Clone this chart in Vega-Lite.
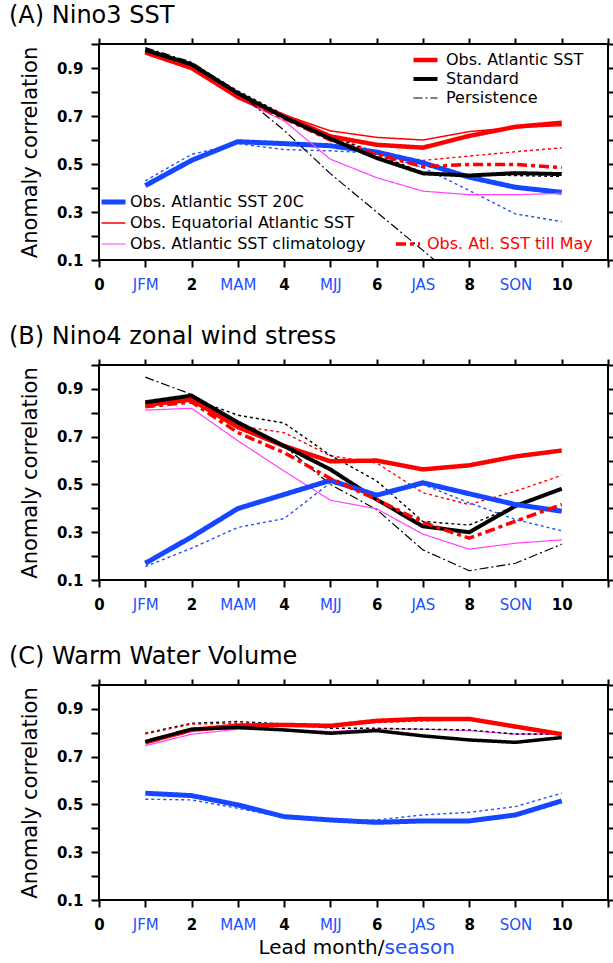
{
  "$schema": "https://vega.github.io/schema/vega-lite/v6.json",
  "background": "white",
  "padding": {"left": 8, "top": 3, "right": 0, "bottom": 0},
  "datasets": {
    "A": [
      {"s":"Obs. Atlantic SST","t":1,"r":0.965},{"s":"Obs. Atlantic SST","t":2,"r":0.90},{"s":"Obs. Atlantic SST","t":3,"r":0.78},{"s":"Obs. Atlantic SST","t":4,"r":0.70},{"s":"Obs. Atlantic SST","t":5,"r":0.615},{"s":"Obs. Atlantic SST","t":6,"r":0.58},{"s":"Obs. Atlantic SST","t":7,"r":0.568},{"s":"Obs. Atlantic SST","t":8,"r":0.617},{"s":"Obs. Atlantic SST","t":9,"r":0.655},{"s":"Obs. Atlantic SST","t":10,"r":0.672},
      {"s":"Standard","t":1,"r":0.975},{"s":"Standard","t":2,"r":0.915},{"s":"Standard","t":3,"r":0.795},{"s":"Standard","t":4,"r":0.695},{"s":"Standard","t":5,"r":0.605},{"s":"Standard","t":6,"r":0.525},{"s":"Standard","t":7,"r":0.461},{"s":"Standard","t":8,"r":0.452},{"s":"Standard","t":9,"r":0.462},{"s":"Standard","t":10,"r":0.458},
      {"s":"Persistence","t":1,"r":0.985},{"s":"Persistence","t":2,"r":0.925},{"s":"Persistence","t":3,"r":0.80},{"s":"Persistence","t":4,"r":0.64},{"s":"Persistence","t":5,"r":0.46},{"s":"Persistence","t":6,"r":0.30},{"s":"Persistence","t":7,"r":0.14},{"s":"Persistence","t":8,"r":-0.02},
      {"s":"Obs. Atlantic SST 20C","t":1,"r":0.41},{"s":"Obs. Atlantic SST 20C","t":2,"r":0.515},{"s":"Obs. Atlantic SST 20C","t":3,"r":0.593},{"s":"Obs. Atlantic SST 20C","t":4,"r":0.585},{"s":"Obs. Atlantic SST 20C","t":5,"r":0.576},{"s":"Obs. Atlantic SST 20C","t":6,"r":0.55},{"s":"Obs. Atlantic SST 20C","t":7,"r":0.505},{"s":"Obs. Atlantic SST 20C","t":8,"r":0.445},{"s":"Obs. Atlantic SST 20C","t":9,"r":0.403},{"s":"Obs. Atlantic SST 20C","t":10,"r":0.382},
      {"s":"Obs. Equatorial Atlantic SST","t":1,"r":0.965},{"s":"Obs. Equatorial Atlantic SST","t":2,"r":0.90},{"s":"Obs. Equatorial Atlantic SST","t":3,"r":0.78},{"s":"Obs. Equatorial Atlantic SST","t":4,"r":0.705},{"s":"Obs. Equatorial Atlantic SST","t":5,"r":0.638},{"s":"Obs. Equatorial Atlantic SST","t":6,"r":0.611},{"s":"Obs. Equatorial Atlantic SST","t":7,"r":0.60},{"s":"Obs. Equatorial Atlantic SST","t":8,"r":0.635},{"s":"Obs. Equatorial Atlantic SST","t":9,"r":0.652},{"s":"Obs. Equatorial Atlantic SST","t":10,"r":0.66},
      {"s":"Obs. Atlantic SST climatology","t":1,"r":0.96},{"s":"Obs. Atlantic SST climatology","t":2,"r":0.895},{"s":"Obs. Atlantic SST climatology","t":3,"r":0.772},{"s":"Obs. Atlantic SST climatology","t":4,"r":0.68},{"s":"Obs. Atlantic SST climatology","t":5,"r":0.52},{"s":"Obs. Atlantic SST climatology","t":6,"r":0.443},{"s":"Obs. Atlantic SST climatology","t":7,"r":0.387},{"s":"Obs. Atlantic SST climatology","t":8,"r":0.372},{"s":"Obs. Atlantic SST climatology","t":9,"r":0.372},{"s":"Obs. Atlantic SST climatology","t":10,"r":0.378},
      {"s":"Obs. Atl. SST till May","t":1,"r":0.965},{"s":"Obs. Atl. SST till May","t":2,"r":0.90},{"s":"Obs. Atl. SST till May","t":3,"r":0.78},{"s":"Obs. Atl. SST till May","t":4,"r":0.69},{"s":"Obs. Atl. SST till May","t":5,"r":0.60},{"s":"Obs. Atl. SST till May","t":6,"r":0.54},{"s":"Obs. Atl. SST till May","t":7,"r":0.489},{"s":"Obs. Atl. SST till May","t":8,"r":0.498},{"s":"Obs. Atl. SST till May","t":9,"r":0.498},{"s":"Obs. Atl. SST till May","t":10,"r":0.485},
      {"s":"Atlantic SST (dashed)","t":1,"r":0.97},{"s":"Atlantic SST (dashed)","t":2,"r":0.91},{"s":"Atlantic SST (dashed)","t":3,"r":0.79},{"s":"Atlantic SST (dashed)","t":4,"r":0.70},{"s":"Atlantic SST (dashed)","t":5,"r":0.615},{"s":"Atlantic SST (dashed)","t":6,"r":0.55},{"s":"Atlantic SST (dashed)","t":7,"r":0.515},{"s":"Atlantic SST (dashed)","t":8,"r":0.533},{"s":"Atlantic SST (dashed)","t":9,"r":0.551},{"s":"Atlantic SST (dashed)","t":10,"r":0.567},
      {"s":"Standard (dashed)","t":1,"r":0.98},{"s":"Standard (dashed)","t":2,"r":0.92},{"s":"Standard (dashed)","t":3,"r":0.805},{"s":"Standard (dashed)","t":4,"r":0.705},{"s":"Standard (dashed)","t":5,"r":0.62},{"s":"Standard (dashed)","t":6,"r":0.54},{"s":"Standard (dashed)","t":7,"r":0.465},{"s":"Standard (dashed)","t":8,"r":0.455},{"s":"Standard (dashed)","t":9,"r":0.452},{"s":"Standard (dashed)","t":10,"r":0.448},
      {"s":"20C (dashed)","t":1,"r":0.43},{"s":"20C (dashed)","t":2,"r":0.54},{"s":"20C (dashed)","t":3,"r":0.585},{"s":"20C (dashed)","t":4,"r":0.56},{"s":"20C (dashed)","t":5,"r":0.555},{"s":"20C (dashed)","t":6,"r":0.545},{"s":"20C (dashed)","t":7,"r":0.485},{"s":"20C (dashed)","t":8,"r":0.39},{"s":"20C (dashed)","t":9,"r":0.292},{"s":"20C (dashed)","t":10,"r":0.26}
    ],
    "B": [
      {"s":"Obs. Atlantic SST","t":1,"r":0.833},{"s":"Obs. Atlantic SST","t":2,"r":0.855},{"s":"Obs. Atlantic SST","t":3,"r":0.74},{"s":"Obs. Atlantic SST","t":4,"r":0.661},{"s":"Obs. Atlantic SST","t":5,"r":0.597},{"s":"Obs. Atlantic SST","t":6,"r":0.60},{"s":"Obs. Atlantic SST","t":7,"r":0.563},{"s":"Obs. Atlantic SST","t":8,"r":0.58},{"s":"Obs. Atlantic SST","t":9,"r":0.617},{"s":"Obs. Atlantic SST","t":10,"r":0.642},
      {"s":"Standard","t":1,"r":0.844},{"s":"Standard","t":2,"r":0.872},{"s":"Standard","t":3,"r":0.76},{"s":"Standard","t":4,"r":0.661},{"s":"Standard","t":5,"r":0.563},{"s":"Standard","t":6,"r":0.437},{"s":"Standard","t":7,"r":0.325},{"s":"Standard","t":8,"r":0.30},{"s":"Standard","t":9,"r":0.41},{"s":"Standard","t":10,"r":0.482},
      {"s":"Persistence","t":1,"r":0.949},{"s":"Persistence","t":2,"r":0.877},{"s":"Persistence","t":3,"r":0.752},{"s":"Persistence","t":4,"r":0.661},{"s":"Persistence","t":5,"r":0.50},{"s":"Persistence","t":6,"r":0.395},{"s":"Persistence","t":7,"r":0.226},{"s":"Persistence","t":8,"r":0.139},{"s":"Persistence","t":9,"r":0.17},{"s":"Persistence","t":10,"r":0.25},
      {"s":"Obs. Atlantic SST 20C","t":1,"r":0.17},{"s":"Obs. Atlantic SST 20C","t":2,"r":0.28},{"s":"Obs. Atlantic SST 20C","t":3,"r":0.399},{"s":"Obs. Atlantic SST 20C","t":4,"r":0.458},{"s":"Obs. Atlantic SST 20C","t":5,"r":0.517},{"s":"Obs. Atlantic SST 20C","t":6,"r":0.455},{"s":"Obs. Atlantic SST 20C","t":7,"r":0.507},{"s":"Obs. Atlantic SST 20C","t":8,"r":0.461},{"s":"Obs. Atlantic SST 20C","t":9,"r":0.416},{"s":"Obs. Atlantic SST 20C","t":10,"r":0.388},
      {"s":"Obs. Atlantic SST climatology","t":1,"r":0.811},{"s":"Obs. Atlantic SST climatology","t":2,"r":0.819},{"s":"Obs. Atlantic SST climatology","t":3,"r":0.683},{"s":"Obs. Atlantic SST climatology","t":4,"r":0.556},{"s":"Obs. Atlantic SST climatology","t":5,"r":0.434},{"s":"Obs. Atlantic SST climatology","t":6,"r":0.398},{"s":"Obs. Atlantic SST climatology","t":7,"r":0.292},{"s":"Obs. Atlantic SST climatology","t":8,"r":0.229},{"s":"Obs. Atlantic SST climatology","t":9,"r":0.254},{"s":"Obs. Atlantic SST climatology","t":10,"r":0.268},
      {"s":"Obs. Atl. SST till May","t":1,"r":0.825},{"s":"Obs. Atl. SST till May","t":2,"r":0.845},{"s":"Obs. Atl. SST till May","t":3,"r":0.717},{"s":"Obs. Atl. SST till May","t":4,"r":0.633},{"s":"Obs. Atl. SST till May","t":5,"r":0.525},{"s":"Obs. Atl. SST till May","t":6,"r":0.437},{"s":"Obs. Atl. SST till May","t":7,"r":0.341},{"s":"Obs. Atl. SST till May","t":8,"r":0.275},{"s":"Obs. Atl. SST till May","t":9,"r":0.346},{"s":"Obs. Atl. SST till May","t":10,"r":0.416},
      {"s":"Atlantic SST (dashed)","t":1,"r":0.83},{"s":"Atlantic SST (dashed)","t":2,"r":0.85},{"s":"Atlantic SST (dashed)","t":3,"r":0.745},{"s":"Atlantic SST (dashed)","t":4,"r":0.717},{"s":"Atlantic SST (dashed)","t":5,"r":0.62},{"s":"Atlantic SST (dashed)","t":6,"r":0.59},{"s":"Atlantic SST (dashed)","t":7,"r":0.465},{"s":"Atlantic SST (dashed)","t":8,"r":0.416},{"s":"Atlantic SST (dashed)","t":9,"r":0.472},{"s":"Atlantic SST (dashed)","t":10,"r":0.538},
      {"s":"Standard (dashed)","t":1,"r":0.84},{"s":"Standard (dashed)","t":2,"r":0.86},{"s":"Standard (dashed)","t":3,"r":0.79},{"s":"Standard (dashed)","t":4,"r":0.757},{"s":"Standard (dashed)","t":5,"r":0.622},{"s":"Standard (dashed)","t":6,"r":0.515},{"s":"Standard (dashed)","t":7,"r":0.345},{"s":"Standard (dashed)","t":8,"r":0.33},{"s":"Standard (dashed)","t":9,"r":0.41},{"s":"Standard (dashed)","t":10,"r":0.48},
      {"s":"20C (dashed)","t":1,"r":0.156},{"s":"20C (dashed)","t":2,"r":0.233},{"s":"20C (dashed)","t":3,"r":0.32},{"s":"20C (dashed)","t":4,"r":0.357},{"s":"20C (dashed)","t":5,"r":0.507},{"s":"20C (dashed)","t":6,"r":0.46},{"s":"20C (dashed)","t":7,"r":0.50},{"s":"20C (dashed)","t":8,"r":0.423},{"s":"20C (dashed)","t":9,"r":0.353},{"s":"20C (dashed)","t":10,"r":0.306}
    ],
    "C": [
      {"s":"Obs. Atlantic SST","t":1,"r":0.76},{"s":"Obs. Atlantic SST","t":2,"r":0.812},{"s":"Obs. Atlantic SST","t":3,"r":0.83},{"s":"Obs. Atlantic SST","t":4,"r":0.833},{"s":"Obs. Atlantic SST","t":5,"r":0.829},{"s":"Obs. Atlantic SST","t":6,"r":0.85},{"s":"Obs. Atlantic SST","t":7,"r":0.858},{"s":"Obs. Atlantic SST","t":8,"r":0.858},{"s":"Obs. Atlantic SST","t":9,"r":0.826},{"s":"Obs. Atlantic SST","t":10,"r":0.794},
      {"s":"Standard","t":1,"r":0.763},{"s":"Standard","t":2,"r":0.815},{"s":"Standard","t":3,"r":0.822},{"s":"Standard","t":4,"r":0.812},{"s":"Standard","t":5,"r":0.798},{"s":"Standard","t":6,"r":0.809},{"s":"Standard","t":7,"r":0.787},{"s":"Standard","t":8,"r":0.77},{"s":"Standard","t":9,"r":0.76},{"s":"Standard","t":10,"r":0.78},
      {"s":"Obs. Atlantic SST climatology","t":1,"r":0.746},{"s":"Obs. Atlantic SST climatology","t":2,"r":0.794},{"s":"Obs. Atlantic SST climatology","t":3,"r":0.815},{"s":"Obs. Atlantic SST climatology","t":4,"r":0.815},{"s":"Obs. Atlantic SST climatology","t":5,"r":0.805},{"s":"Obs. Atlantic SST climatology","t":6,"r":0.816},{"s":"Obs. Atlantic SST climatology","t":7,"r":0.815},{"s":"Obs. Atlantic SST climatology","t":8,"r":0.809},{"s":"Obs. Atlantic SST climatology","t":9,"r":0.794},{"s":"Obs. Atlantic SST climatology","t":10,"r":0.794},
      {"s":"Standard (dashed)","t":1,"r":0.798},{"s":"Standard (dashed)","t":2,"r":0.84},{"s":"Standard (dashed)","t":3,"r":0.847},{"s":"Standard (dashed)","t":4,"r":0.837},{"s":"Standard (dashed)","t":5,"r":0.819},{"s":"Standard (dashed)","t":6,"r":0.819},{"s":"Standard (dashed)","t":7,"r":0.815},{"s":"Standard (dashed)","t":8,"r":0.812},{"s":"Standard (dashed)","t":9,"r":0.795},{"s":"Standard (dashed)","t":10,"r":0.795},
      {"s":"Atlantic SST (dashed)","t":1,"r":0.795},{"s":"Atlantic SST (dashed)","t":2,"r":0.836},{"s":"Atlantic SST (dashed)","t":3,"r":0.84},{"s":"Atlantic SST (dashed)","t":4,"r":0.836},{"s":"Atlantic SST (dashed)","t":5,"r":0.833},{"s":"Atlantic SST (dashed)","t":6,"r":0.843},{"s":"Atlantic SST (dashed)","t":7,"r":0.85},{"s":"Atlantic SST (dashed)","t":8,"r":0.854},{"s":"Atlantic SST (dashed)","t":9,"r":0.82},{"s":"Atlantic SST (dashed)","t":10,"r":0.795},
      {"s":"Obs. Atlantic SST 20C","t":1,"r":0.547},{"s":"Obs. Atlantic SST 20C","t":2,"r":0.537},{"s":"Obs. Atlantic SST 20C","t":3,"r":0.498},{"s":"Obs. Atlantic SST 20C","t":4,"r":0.449},{"s":"Obs. Atlantic SST 20C","t":5,"r":0.435},{"s":"Obs. Atlantic SST 20C","t":6,"r":0.425},{"s":"Obs. Atlantic SST 20C","t":7,"r":0.431},{"s":"Obs. Atlantic SST 20C","t":8,"r":0.431},{"s":"Obs. Atlantic SST 20C","t":9,"r":0.456},{"s":"Obs. Atlantic SST 20C","t":10,"r":0.515},
      {"s":"20C (dashed)","t":1,"r":0.522},{"s":"20C (dashed)","t":2,"r":0.519},{"s":"20C (dashed)","t":3,"r":0.484},{"s":"20C (dashed)","t":4,"r":0.445},{"s":"20C (dashed)","t":5,"r":0.435},{"s":"20C (dashed)","t":6,"r":0.435},{"s":"20C (dashed)","t":7,"r":0.456},{"s":"20C (dashed)","t":8,"r":0.467},{"s":"20C (dashed)","t":9,"r":0.491},{"s":"20C (dashed)","t":10,"r":0.547}
    ]
  },
  "vconcat": [
    {
      "title": {"text": "(A) Nino3 SST"},
      "width": 509, "height": 216,
      "data": {"name": "A"},
      "resolve": {"axis": {"x": "independent", "y": "independent"}, "scale": {"color": "independent", "strokeWidth": "independent", "strokeDash": "independent"}},
      "layer": [
        {
          "transform": [{"filter": {"field": "s", "oneOf": ["Atlantic SST (dashed)", "Standard (dashed)", "20C (dashed)"]}}],
          "mark": {"type": "line", "clip": true},
          "encoding": {
            "x": {"field": "t", "type": "quantitative", "scale": {"domain": [0, 11], "nice": false, "zero": false},
                  "axis": {"orient": "bottom", "values": [0,1,2,3,4,5,6,7,8,9,10,11], "labelExpr": "datum.value >= 11 ? '' : ['0','JFM','2','MAM','4','MJJ','6','JAS','8','SON','10'][datum.value]", "labelColor": {"condition": {"test": "datum.value % 2 == 1", "value": "#2050ff"}, "value": "black"}, "labelFontWeight": {"condition": {"test": "datum.value % 2 == 1", "value": "normal"}, "value": "bold"}, "labelFontSize": 15, "tickSize": 7, "labelPadding": 10, "labelFlush": false, "labelOverlap": false, "title": null}},
            "y": {"field": "r", "type": "quantitative", "scale": {"domain": [0.1, 1.0], "nice": false, "zero": false},
                  "axis": {"orient": "left", "values": [0.1,0.2,0.3,0.4,0.5,0.6,0.7,0.8,0.9,1.0], "labelExpr": "round(datum.value*10) % 2 == 1 ? format(datum.value, '.1f') : ''", "labelFontSize": 15, "labelFontWeight": "bold", "tickSize": 8, "labelPadding": 8, "labelFlush": false, "labelOverlap": false, "title": "Anomaly correlation", "titleFontSize": 21, "titlePadding": 16}},
            "color": {"field": "s", "type": "nominal", "scale": {"domain": ["Atlantic SST (dashed)", "Standard (dashed)", "20C (dashed)"], "range": ["#ff0000", "#000000", "#2050ff"]}, "legend": null},
            "strokeWidth": {"field": "s", "type": "nominal", "scale": {"type": "ordinal", "domain": ["Atlantic SST (dashed)", "Standard (dashed)", "20C (dashed)"], "range": [1.4, 1.4, 1.4]}, "legend": null},
            "strokeDash": {"field": "s", "type": "nominal", "scale": {"domain": ["Atlantic SST (dashed)", "Standard (dashed)", "20C (dashed)"], "range": [[3, 3], [3, 3], [3, 3]]}, "legend": null}
          }
        },
        {
          "transform": [{"filter": {"field": "s", "oneOf": ["Obs. Atlantic SST 20C", "Obs. Equatorial Atlantic SST", "Obs. Atlantic SST climatology"]}}],
          "mark": {"type": "line", "clip": true},
          "encoding": {
            "x": {"field": "t", "type": "quantitative", "axis": {"orient": "top", "values": [0,1,2,3,4,5,6,7,8,9,10,11], "labels": false, "tickSize": 6, "title": null}},
            "y": {"field": "r", "type": "quantitative", "axis": {"orient": "right", "values": [0.1,0.2,0.3,0.4,0.5,0.6,0.7,0.8,0.9,1.0], "labels": false, "tickSize": 7, "title": null}},
            "color": {"field": "s", "type": "nominal", "scale": {"domain": ["Obs. Atlantic SST 20C", "Obs. Equatorial Atlantic SST", "Obs. Atlantic SST climatology"], "range": ["#1447ff", "#ff0000", "#ff40ff"]},
                      "legend": {"orient": "none", "legendX": 0, "legendY": 150, "title": null, "padding": 0, "symbolType": "stroke", "symbolSize": 576, "clipHeight": 16, "rowPadding": 5, "labelOffset": 2, "labelFont": "DejaVu Sans", "labelFontSize": 16, "labelLimit": 400,
                                 "encode": {"labels": {"fill": {"condition": [{"test": "datum.value == 'Obs. Atlantic SST 20C'", "value": "#1447ff"}, {"test": "datum.value == 'Obs. Equatorial Atlantic SST'", "value": "#ff0000"}], "value": "#ff40ff"}}}}},
            "strokeWidth": {"field": "s", "type": "nominal", "scale": {"type": "ordinal", "domain": ["Obs. Atlantic SST 20C", "Obs. Equatorial Atlantic SST", "Obs. Atlantic SST climatology"], "range": [5, 1.5, 1.2]},
                      "legend": {"orient": "none", "legendX": 0, "legendY": 150, "title": null, "padding": 0, "symbolType": "stroke", "symbolSize": 576, "clipHeight": 16, "rowPadding": 5, "labelOffset": 2, "labelFont": "DejaVu Sans", "labelFontSize": 16, "labelLimit": 400}},
            "strokeDash": {"field": "s", "type": "nominal", "scale": {"domain": ["Obs. Atlantic SST 20C", "Obs. Equatorial Atlantic SST", "Obs. Atlantic SST climatology"], "range": [[1, 0], [1, 0], [1, 0]]},
                      "legend": {"orient": "none", "legendX": 0, "legendY": 150, "title": null, "padding": 0, "symbolType": "stroke", "symbolSize": 576, "clipHeight": 16, "rowPadding": 5, "labelOffset": 2, "labelFont": "DejaVu Sans", "labelFontSize": 16, "labelLimit": 400}}
          }
        },
        {
          "transform": [{"filter": {"field": "s", "oneOf": ["Obs. Atl. SST till May"]}}],
          "mark": {"type": "line", "clip": true},
          "encoding": {
            "x": {"field": "t", "type": "quantitative", "axis": null},
            "y": {"field": "r", "type": "quantitative", "axis": null},
            "color": {"field": "s", "type": "nominal", "scale": {"domain": ["Obs. Atl. SST till May"], "range": ["#ff0000"]},
                      "legend": {"orient": "none", "legendX": 295, "legendY": 192, "title": null, "padding": 0, "symbolType": "stroke", "symbolSize": 576, "clipHeight": 16, "labelOffset": 5, "labelFont": "DejaVu Sans", "labelFontSize": 16, "labelLimit": 400, "labelColor": "#ff0000"}},
            "strokeWidth": {"field": "s", "type": "nominal", "scale": {"type": "ordinal", "domain": ["Obs. Atl. SST till May"], "range": [3.5]},
                      "legend": {"orient": "none", "legendX": 295, "legendY": 192, "title": null, "padding": 0, "symbolType": "stroke", "symbolSize": 576, "clipHeight": 16, "labelOffset": 5, "labelFont": "DejaVu Sans", "labelFontSize": 16, "labelLimit": 400, "labelColor": "#ff0000"}},
            "strokeDash": {"field": "s", "type": "nominal", "scale": {"domain": ["Obs. Atl. SST till May"], "range": [[10, 4, 4, 4]]},
                      "legend": {"orient": "none", "legendX": 295, "legendY": 192, "title": null, "padding": 0, "symbolType": "stroke", "symbolSize": 576, "clipHeight": 16, "labelOffset": 5, "labelFont": "DejaVu Sans", "labelFontSize": 16, "labelLimit": 400, "labelColor": "#ff0000"}}
          }
        },
        {
          "transform": [{"filter": {"field": "s", "oneOf": ["Obs. Atlantic SST", "Standard", "Persistence"]}}],
          "mark": {"type": "line", "clip": true},
          "encoding": {
            "x": {"field": "t", "type": "quantitative", "axis": null},
            "y": {"field": "r", "type": "quantitative", "axis": null},
            "color": {"field": "s", "type": "nominal", "scale": {"domain": ["Obs. Atlantic SST", "Standard", "Persistence"], "range": ["#ff0000", "#000000", "#000000"]},
                      "legend": {"orient": "none", "legendX": 312, "legendY": 8, "title": null, "padding": 0, "symbolType": "stroke", "symbolSize": 576, "clipHeight": 16, "rowPadding": 3, "labelOffset": 6, "labelFont": "DejaVu Sans", "labelFontSize": 16, "labelLimit": 400,
                                 "encode": {"labels": {"fill": {"condition": {"test": "datum.value == 'Obs. Atlantic SST'", "value": "#ff0000"}, "value": "#000000"}}}}},
            "strokeWidth": {"field": "s", "type": "nominal", "scale": {"type": "ordinal", "domain": ["Obs. Atlantic SST", "Standard", "Persistence"], "range": [4.5, 4, 1.2]},
                      "legend": {"orient": "none", "legendX": 312, "legendY": 8, "title": null, "padding": 0, "symbolType": "stroke", "symbolSize": 576, "clipHeight": 16, "rowPadding": 3, "labelOffset": 6, "labelFont": "DejaVu Sans", "labelFontSize": 16, "labelLimit": 400}},
            "strokeDash": {"field": "s", "type": "nominal", "scale": {"domain": ["Obs. Atlantic SST", "Standard", "Persistence"], "range": [[1, 0], [1, 0], [9, 3, 2, 3]]},
                      "legend": {"orient": "none", "legendX": 312, "legendY": 8, "title": null, "padding": 0, "symbolType": "stroke", "symbolSize": 576, "clipHeight": 16, "rowPadding": 3, "labelOffset": 6, "labelFont": "DejaVu Sans", "labelFontSize": 16, "labelLimit": 400}}
          }
        }
      ]
    },
    {
      "title": {"text": "(B) Nino4 zonal wind stress"},
      "width": 509, "height": 215,
      "data": {"name": "B"},
      "resolve": {"axis": {"x": "independent", "y": "independent"}, "scale": {"color": "independent", "strokeWidth": "independent", "strokeDash": "independent"}},
      "layer": [
        {
          "transform": [{"filter": {"field": "s", "oneOf": ["Atlantic SST (dashed)", "Standard (dashed)", "20C (dashed)", "Obs. Atlantic SST climatology", "Persistence"]}}],
          "mark": {"type": "line", "clip": true},
          "encoding": {
            "x": {"field": "t", "type": "quantitative", "scale": {"domain": [0, 11], "nice": false, "zero": false},
                  "axis": {"orient": "bottom", "values": [0,1,2,3,4,5,6,7,8,9,10,11], "labelExpr": "datum.value >= 11 ? '' : ['0','JFM','2','MAM','4','MJJ','6','JAS','8','SON','10'][datum.value]", "labelColor": {"condition": {"test": "datum.value % 2 == 1", "value": "#2050ff"}, "value": "black"}, "labelFontWeight": {"condition": {"test": "datum.value % 2 == 1", "value": "normal"}, "value": "bold"}, "labelFontSize": 15, "tickSize": 7, "labelPadding": 10, "labelFlush": false, "labelOverlap": false, "title": null}},
            "y": {"field": "r", "type": "quantitative", "scale": {"domain": [0.1, 1.0], "nice": false, "zero": false},
                  "axis": {"orient": "left", "values": [0.1,0.2,0.3,0.4,0.5,0.6,0.7,0.8,0.9,1.0], "labelExpr": "round(datum.value*10) % 2 == 1 ? format(datum.value, '.1f') : ''", "labelFontSize": 15, "labelFontWeight": "bold", "tickSize": 8, "labelPadding": 8, "labelFlush": false, "labelOverlap": false, "title": "Anomaly correlation", "titleFontSize": 21, "titlePadding": 16}},
            "color": {"field": "s", "type": "nominal", "scale": {"domain": ["Atlantic SST (dashed)", "Standard (dashed)", "20C (dashed)", "Obs. Atlantic SST climatology", "Persistence"], "range": ["#ff0000", "#000000", "#2050ff", "#ff40ff", "#000000"]}, "legend": null},
            "strokeWidth": {"field": "s", "type": "nominal", "scale": {"type": "ordinal", "domain": ["Atlantic SST (dashed)", "Standard (dashed)", "20C (dashed)", "Obs. Atlantic SST climatology", "Persistence"], "range": [1.4, 1.4, 1.4, 1.2, 1.2]}, "legend": null},
            "strokeDash": {"field": "s", "type": "nominal", "scale": {"domain": ["Atlantic SST (dashed)", "Standard (dashed)", "20C (dashed)", "Obs. Atlantic SST climatology", "Persistence"], "range": [[3, 3], [3, 3], [3, 3], [1, 0], [9, 3, 2, 3]]}, "legend": null}
          }
        },
        {
          "transform": [{"filter": {"field": "s", "oneOf": ["Obs. Atlantic SST 20C", "Obs. Atl. SST till May", "Obs. Atlantic SST", "Standard"]}}],
          "mark": {"type": "line", "clip": true},
          "encoding": {
            "x": {"field": "t", "type": "quantitative", "axis": {"orient": "top", "values": [0,1,2,3,4,5,6,7,8,9,10,11], "labels": false, "tickSize": 6, "title": null}},
            "y": {"field": "r", "type": "quantitative", "axis": {"orient": "right", "values": [0.1,0.2,0.3,0.4,0.5,0.6,0.7,0.8,0.9,1.0], "labels": false, "tickSize": 7, "title": null}},
            "color": {"field": "s", "type": "nominal", "scale": {"domain": ["Obs. Atlantic SST 20C", "Obs. Atl. SST till May", "Obs. Atlantic SST", "Standard"], "range": ["#1447ff", "#ff0000", "#ff0000", "#000000"]}, "legend": null},
            "strokeWidth": {"field": "s", "type": "nominal", "scale": {"type": "ordinal", "domain": ["Obs. Atlantic SST 20C", "Obs. Atl. SST till May", "Obs. Atlantic SST", "Standard"], "range": [5, 3.5, 4.5, 4]}, "legend": null},
            "strokeDash": {"field": "s", "type": "nominal", "scale": {"domain": ["Obs. Atlantic SST 20C", "Obs. Atl. SST till May", "Obs. Atlantic SST", "Standard"], "range": [[1, 0], [10, 4, 4, 4], [1, 0], [1, 0]]}, "legend": null}
          }
        }
      ]
    },
    {
      "title": {"text": "(C) Warm Water Volume"},
      "width": 509, "height": 215,
      "data": {"name": "C"},
      "resolve": {"axis": {"x": "independent", "y": "independent"}, "scale": {"color": "independent", "strokeWidth": "independent", "strokeDash": "independent"}},
      "layer": [
        {
          "transform": [{"filter": {"field": "s", "oneOf": ["Atlantic SST (dashed)", "Standard (dashed)", "Obs. Atlantic SST climatology"]}}],
          "mark": {"type": "line", "clip": true},
          "encoding": {
            "x": {"field": "t", "type": "quantitative", "scale": {"domain": [0, 11], "nice": false, "zero": false},
                  "axis": {"orient": "bottom", "values": [0,1,2,3,4,5,6,7,8,9,10,11], "labelExpr": "datum.value >= 11 ? '' : ['0','JFM','2','MAM','4','MJJ','6','JAS','8','SON','10'][datum.value]", "labelColor": {"condition": {"test": "datum.value % 2 == 1", "value": "#2050ff"}, "value": "black"}, "labelFontWeight": {"condition": {"test": "datum.value % 2 == 1", "value": "normal"}, "value": "bold"}, "labelFontSize": 15, "tickSize": 7, "labelPadding": 10, "labelFlush": false, "labelOverlap": false,
                           "title": "Lead month/", "titleX": 285, "titleY": 53, "titleAlign": "right", "titleBaseline": "alphabetic", "titleFontSize": 20, "titleColor": "black"}},
            "y": {"field": "r", "type": "quantitative", "scale": {"domain": [0.1, 1.0], "nice": false, "zero": false},
                  "axis": {"orient": "left", "values": [0.1,0.2,0.3,0.4,0.5,0.6,0.7,0.8,0.9,1.0], "labelExpr": "round(datum.value*10) % 2 == 1 ? format(datum.value, '.1f') : ''", "labelFontSize": 15, "labelFontWeight": "bold", "tickSize": 8, "labelPadding": 8, "labelFlush": false, "labelOverlap": false, "title": "Anomaly correlation", "titleFontSize": 21, "titlePadding": 16}},
            "color": {"field": "s", "type": "nominal", "scale": {"domain": ["Atlantic SST (dashed)", "Standard (dashed)", "Obs. Atlantic SST climatology"], "range": ["#ff0000", "#000000", "#ff40ff"]}, "legend": null},
            "strokeWidth": {"field": "s", "type": "nominal", "scale": {"type": "ordinal", "domain": ["Atlantic SST (dashed)", "Standard (dashed)", "Obs. Atlantic SST climatology"], "range": [1.4, 1.4, 1.2]}, "legend": null},
            "strokeDash": {"field": "s", "type": "nominal", "scale": {"domain": ["Atlantic SST (dashed)", "Standard (dashed)", "Obs. Atlantic SST climatology"], "range": [[3, 3], [3, 3], [1, 0]]}, "legend": null}
          }
        },
        {
          "transform": [{"filter": {"field": "s", "oneOf": ["Obs. Atlantic SST 20C", "Standard", "Obs. Atlantic SST"]}}],
          "mark": {"type": "line", "clip": true},
          "encoding": {
            "x": {"field": "t", "type": "quantitative", "axis": {"orient": "top", "values": [0,1,2,3,4,5,6,7,8,9,10,11], "labels": false, "tickSize": 6, "title": null}},
            "y": {"field": "r", "type": "quantitative", "axis": {"orient": "right", "values": [0.1,0.2,0.3,0.4,0.5,0.6,0.7,0.8,0.9,1.0], "labels": false, "tickSize": 7, "title": null}},
            "color": {"field": "s", "type": "nominal", "scale": {"domain": ["Obs. Atlantic SST 20C", "Standard", "Obs. Atlantic SST"], "range": ["#1447ff", "#000000", "#ff0000"]}, "legend": null},
            "strokeWidth": {"field": "s", "type": "nominal", "scale": {"type": "ordinal", "domain": ["Obs. Atlantic SST 20C", "Standard", "Obs. Atlantic SST"], "range": [5, 3.5, 4.5]}, "legend": null},
            "strokeDash": {"field": "s", "type": "nominal", "scale": {"domain": ["Obs. Atlantic SST 20C", "Standard", "Obs. Atlantic SST"], "range": [[1, 0], [1, 0], [1, 0]]}, "legend": null}
          }
        },
        {
          "transform": [{"filter": {"field": "s", "oneOf": ["20C (dashed)"]}}],
          "mark": {"type": "line", "clip": true},
          "encoding": {
            "x": {"field": "t", "type": "quantitative", "axis": {"orient": "bottom", "labels": false, "ticks": false, "domain": false, "grid": false, "title": "season", "titleX": 285, "titleY": 53, "titleAlign": "left", "titleBaseline": "alphabetic", "titleFontSize": 20, "titleColor": "#2050ff"}},
            "y": {"field": "r", "type": "quantitative", "axis": null},
            "color": {"field": "s", "type": "nominal", "scale": {"domain": ["20C (dashed)"], "range": ["#2050ff"]}, "legend": null},
            "strokeWidth": {"field": "s", "type": "nominal", "scale": {"type": "ordinal", "domain": ["20C (dashed)"], "range": [1.4]}, "legend": null},
            "strokeDash": {"field": "s", "type": "nominal", "scale": {"domain": ["20C (dashed)"], "range": [[3, 3]]}, "legend": null}
          }
        }
      ]
    }
  ],
  "config": {
    "font": "DejaVu Sans",
    "view": {"stroke": "black", "strokeWidth": 2},
    "concat": {"spacing": 31},
    "axis": {"domain": false, "grid": false, "tickColor": "black", "tickWidth": 2, "labelFont": "DejaVu Sans", "titleFont": "DejaVu Sans", "titleFontWeight": "normal", "titleColor": "black", "labelColor": "black"},
    "title": {"anchor": "start", "frame": "group", "dx": -90, "offset": 9, "fontSize": 24, "fontWeight": "normal", "font": "DejaVu Sans", "baseline": "alphabetic", "color": "black"},
    "line": {"strokeCap": "butt", "strokeJoin": "round"}
  }
}
